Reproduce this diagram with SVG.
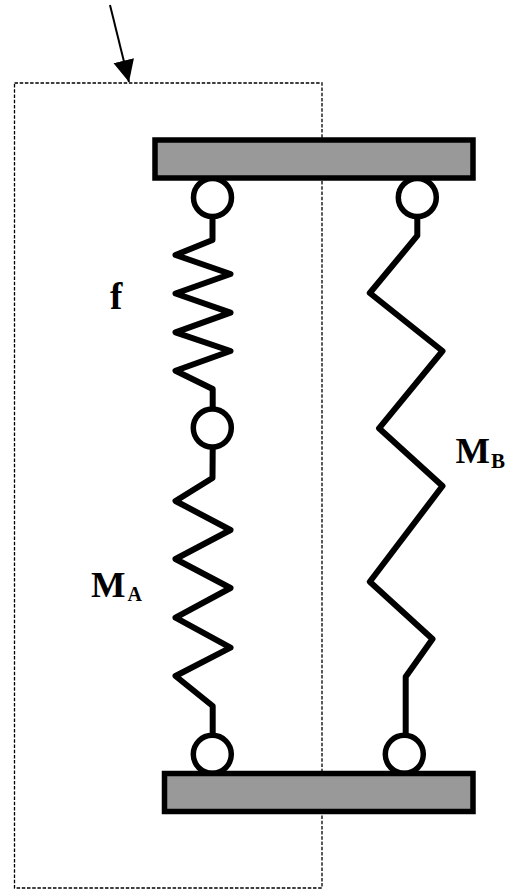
<svg xmlns="http://www.w3.org/2000/svg" width="519" height="890" viewBox="0 0 519 890">
<defs>
<style>
.bar{fill:#999;stroke:#000;stroke-width:5.5}
.joint{fill:#fff;stroke:#000;stroke-width:5.5}
.spring{fill:none;stroke:#000;stroke-width:6;stroke-linejoin:round}
.lbl{font-family:"Liberation Serif","Times New Roman",serif;font-weight:bold;fill:#000}
</style>
<marker id="head" markerUnits="userSpaceOnUse" markerWidth="24" markerHeight="24" refX="22" refY="10.500" orient="auto"><path d="M0,0L22,10.500L0,21Z" fill="#000"/></marker>
</defs>
<rect width="519" height="890" fill="#fff"/>
<g id="boundary"><rect x="14.500" y="83" width="307.500" height="805" fill="none" stroke="#000" stroke-width="1.300" stroke-dasharray="3.500 1.700"/></g>
<g id="connectors">
<line x1="110" y1="5" x2="129" y2="82" stroke="#000" stroke-width="2" marker-end="url(#head)"/>
<path class="spring" d="M212.500,219V240L175.500,255L230.500,274L175.500,293.500L230.500,312.700L175.500,332.300L230.500,351L175.500,370.700L212.700,389V408"/>
<path class="spring" d="M212.700,449L212.500,478L175.500,501L230.500,530L175.500,559L230.500,588L175.500,617.700L230.500,647.700L175.500,676L212.700,706V733"/>
<path class="spring" d="M417.300,219V235.700L369.800,293L442.500,351L379,428.300L442.500,486L369.800,581.700L432.500,639L405.700,676.700V733"/>
</g>
<g id="joint-top-left"><circle class="joint" cx="212.500" cy="197.500" r="19"/></g>
<g id="joint-top-right"><circle class="joint" cx="417.300" cy="197.500" r="19"/></g>
<g id="joint-middle"><circle class="joint" cx="212.300" cy="428" r="19"/></g>
<g id="joint-bottom-left"><circle class="joint" cx="212.300" cy="754.300" r="19"/></g>
<g id="joint-bottom-right"><circle class="joint" cx="404.300" cy="754.300" r="19"/></g>
<g id="bar-top"><rect class="bar" x="155" y="140" width="318" height="38"/></g>
<g id="bar-bottom"><rect class="bar" x="164.500" y="773.500" width="308.500" height="38"/></g>
<g id="label-f"><text class="lbl" x="110" y="309" font-size="37">f</text></g>
<g id="label-ma"><text class="lbl" x="91" y="597" font-size="36.500">M<tspan font-size="20" dx="2" dy="4">A</tspan></text></g>
<g id="label-mb"><text class="lbl" x="455.500" y="463" font-size="36.500">M<tspan font-size="21" dx="1" dy="4.500">B</tspan></text></g>
</svg>
